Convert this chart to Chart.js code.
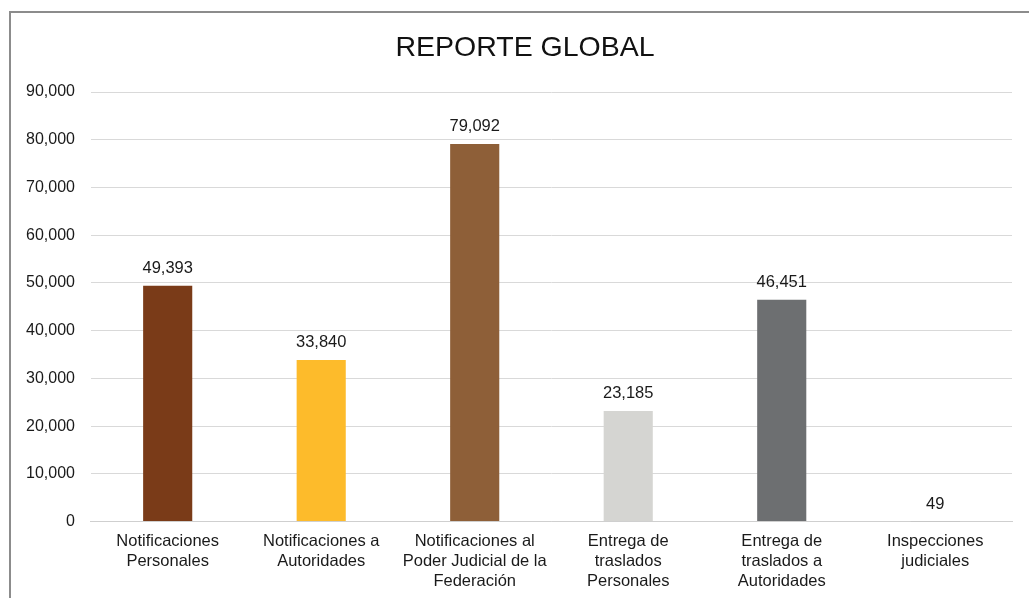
<!DOCTYPE html>
<html>
<head>
<meta charset="utf-8">
<script src="https://cdn.jsdelivr.net/npm/chart.js"></script>
<style>
  html, body { margin: 0; padding: 0; background: #fff; overflow: hidden; }
  #wrap { position: relative; width: 1029px; height: 598px; }
  #frame { position: absolute; left: 9px; top: 11px; width: 1040px; height: 620px; border: 2px solid #8c8c8c; box-sizing: border-box; }
  canvas { position: absolute; left: 0; top: 0; }
</style>
</head>
<body>
<div id="wrap">
  <div id="frame"></div>
  <canvas id="c" width="1029" height="598"></canvas>
</div>
<script>
const titleText = "REPORTE GLOBAL";
const categories = [
  ["Notificaciones", "Personales"],
  ["Notificaciones a", "Autoridades"],
  ["Notificaciones al", "Poder Judicial de la", "Federación"],
  ["Entrega de", "traslados", "Personales"],
  ["Entrega de", "traslados a", "Autoridades"],
  ["Inspecciones", "judiciales"]
];
const values = [49393, 33840, 79092, 23185, 46451, 49];
const barColors = ["#7A3B18", "#FDBB2B", "#8E5F38", "#D5D5D2", "#6D6F71", "#8C8C8C"];
const yTicks = [0, 10000, 20000, 30000, 40000, 50000, 60000, 70000, 80000, 90000];

const fmt = v => v.toLocaleString("en-US");
const FONT = "'Liberation Sans', Arial, Helvetica, sans-serif";

const valueLabels = {
  id: "valueLabels",
  afterDatasetsDraw(chart) {
    const ctx = chart.ctx;
    const meta = chart.getDatasetMeta(0);
    ctx.save();
    ctx.font = "16.5px " + FONT;
    ctx.fillStyle = "#1a1a1a";
    ctx.textAlign = "center";
    ctx.textBaseline = "bottom";
    meta.data.forEach((bar, i) => {
      ctx.fillText(fmt(chart.data.datasets[0].data[i]), bar.x, bar.y - 9);
    });
    ctx.restore();
  }
};

// Title centred on the outer frame rather than the canvas
const frameTitle = {
  id: "frameTitle",
  afterDraw(chart) {
    const ctx = chart.ctx;
    ctx.save();
    ctx.font = "28.5px " + FONT;
    ctx.fillStyle = "#111";
    ctx.textAlign = "center";
    ctx.textBaseline = "middle";
    ctx.fillText(titleText, 525, 48);
    ctx.restore();
  }
};

new Chart(document.getElementById("c"), {
  type: "bar",
  data: {
    labels: categories,
    datasets: [{
      data: values,
      backgroundColor: barColors,
      barPercentage: 0.8,
      categoryPercentage: 0.4
    }]
  },
  options: {
    responsive: false,
    animation: false,
    layout: { padding: { left: 10, right: 17, top: 92, bottom: -3 } },
    plugins: {
      legend: { display: false },
      tooltip: { enabled: false },
      title: { display: false }
    },
    scales: {
      x: {
        grid: { display: false, drawTicks: false },
        border: { display: true, color: "#cfcfcf", width: 1 },
        ticks: {
          color: "#1a1a1a",
          maxRotation: 0,
          autoSkip: false,
          padding: 10,
          font: { family: FONT, size: 16.5, lineHeight: 1.2 }
        }
      },
      y: {
        min: 0,
        max: 90000,
        afterBuildTicks(axis) { axis.ticks = yTicks.map(v => ({ value: v })); },
        grid: { color: "#d9d9d9", drawTicks: false, lineWidth: 1 },
        border: { display: false },
        ticks: {
          color: "#1a1a1a",
          padding: 16,
          font: { family: FONT, size: 16 },
          callback: v => fmt(v)
        }
      }
    }
  },
  plugins: [valueLabels, frameTitle]
});
</script>
</body>
</html>
